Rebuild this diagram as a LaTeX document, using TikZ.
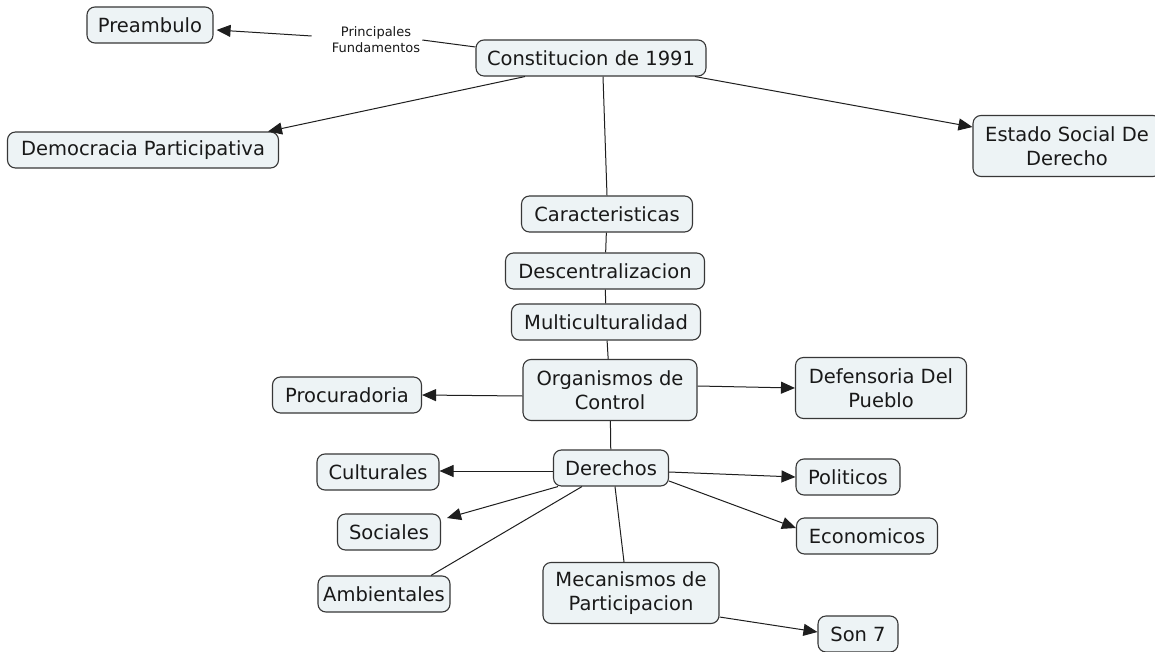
\documentclass[tikz,border=0pt]{standalone}
\usepackage{fontspec}
\setmainfont{DejaVu Sans}
\usetikzlibrary{arrows.meta}
\definecolor{boxfill}{RGB}{237,243,245}
\definecolor{boxline}{RGB}{55,55,55}
\definecolor{conn}{RGB}{30,30,30}
\begin{document}
\begin{tikzpicture}[x=1pt,y=-1pt,
  concept/.style={draw=boxline,line width=1.1pt,fill=boxfill,rounded corners=8pt,
    inner xsep=11pt,inner ysep=3pt,minimum height=36pt,align=center,
    font=\fontsize{19.5}{24}\selectfont,text=black!90},
  twoline/.style={concept,minimum height=61pt},
  lbl/.style={inner sep=2pt,align=center,font=\fontsize{13}{16}\selectfont,text=black!90},
  link/.style={draw=conn,line width=1pt},
  arr/.style={link,-{Triangle[length=14pt,width=12pt]}}]
\useasboundingbox (0,0) rectangle (1155,652);
\fill[white] (0,0) rectangle (1155,652);

\node[concept] (pre) at (150,25) {Preambulo};
\node[lbl] (lab) at (376,40) {Principales\\Fundamentos};
\node[concept] (con) at (591,58) {Constitucion de 1991};
\node[concept,minimum width=271pt] (dem) at (143,150) {Democracia Participativa};
\node[twoline,minimum width=188pt] (est) at (1067,146) {Estado Social De\\Derecho};
\node[concept,minimum width=171pt] (car) at (607,214) {Caracteristicas};
\node[concept,minimum width=199pt] (des) at (605,271) {Descentralizacion};
\node[concept,minimum width=189pt] (mul) at (606,322) {Multiculturalidad};
\node[twoline,minimum width=174pt] (org) at (610,390) {Organismos de\\Control};
\node[concept,minimum width=149pt] (pro) at (347,395) {Procuradoria};
\node[twoline,minimum width=171pt] (def) at (881,388) {Defensoria Del\\Pueblo};
\node[concept,minimum width=115pt] (der) at (611,468) {Derechos};
\node[concept,minimum width=122pt] (cul) at (378,472) {Culturales};
\node[concept,minimum width=104pt] (pol) at (848,477) {Politicos};
\node[concept,minimum width=103pt] (soc) at (389,532) {Sociales};
\node[concept,minimum width=141pt] (eco) at (867,536) {Economicos};
\node[concept,minimum width=132pt,inner xsep=5pt] (amb) at (384,594) {Ambientales};
\node[twoline,minimum width=176pt] (mec) at (631,593) {Mecanismos de\\Participacion};
\node[concept,minimum width=80pt] (son) at (858,634) {Son 7};

\draw[link] ([yshift=11pt]con.west) -- (lab.east);
\draw[arr] ([xshift=-18pt,yshift=4pt]lab.west) -- ([xshift=3pt,yshift=-5pt]pre.east);
\draw[arr] ([xshift=-66pt]con.south) -- ([xshift=125pt]dem.north);
\draw[arr] ([xshift=104pt]con.south) -- ([yshift=19pt]est.west);
\draw[link] ([xshift=12pt]con.south) -- (car.north);
\draw[link] (car) -- (des);
\draw[link] (des) -- (mul);
\draw[link] (mul) -- (org);
\draw[arr] ([yshift=-6pt]org.west) -- (pro.east);
\draw[arr] ([yshift=4pt]org.east) -- (def.west);
\draw[link] (org) -- (der);
\draw[arr] ([yshift=-3pt]der.west) -- ([yshift=1pt]cul.east);
\draw[arr] ([yshift=-4pt]der.east) -- (pol.west);
\draw[arr] ([xshift=-53pt]der.south) -- ([xshift=6pt,yshift=14pt]soc.east);
\draw[arr] ([yshift=-13pt]der.east) -- ([yshift=8pt]eco.west);
\draw[link] ([xshift=-29pt]der.south) -- ([xshift=47pt]amb.north);
\draw[link] ([xshift=4pt]der.south) -- ([xshift=-7pt]mec.north);
\draw[arr] ([yshift=-24pt]mec.east) -- ([yshift=2pt]son.west);
\end{tikzpicture}
\end{document}
